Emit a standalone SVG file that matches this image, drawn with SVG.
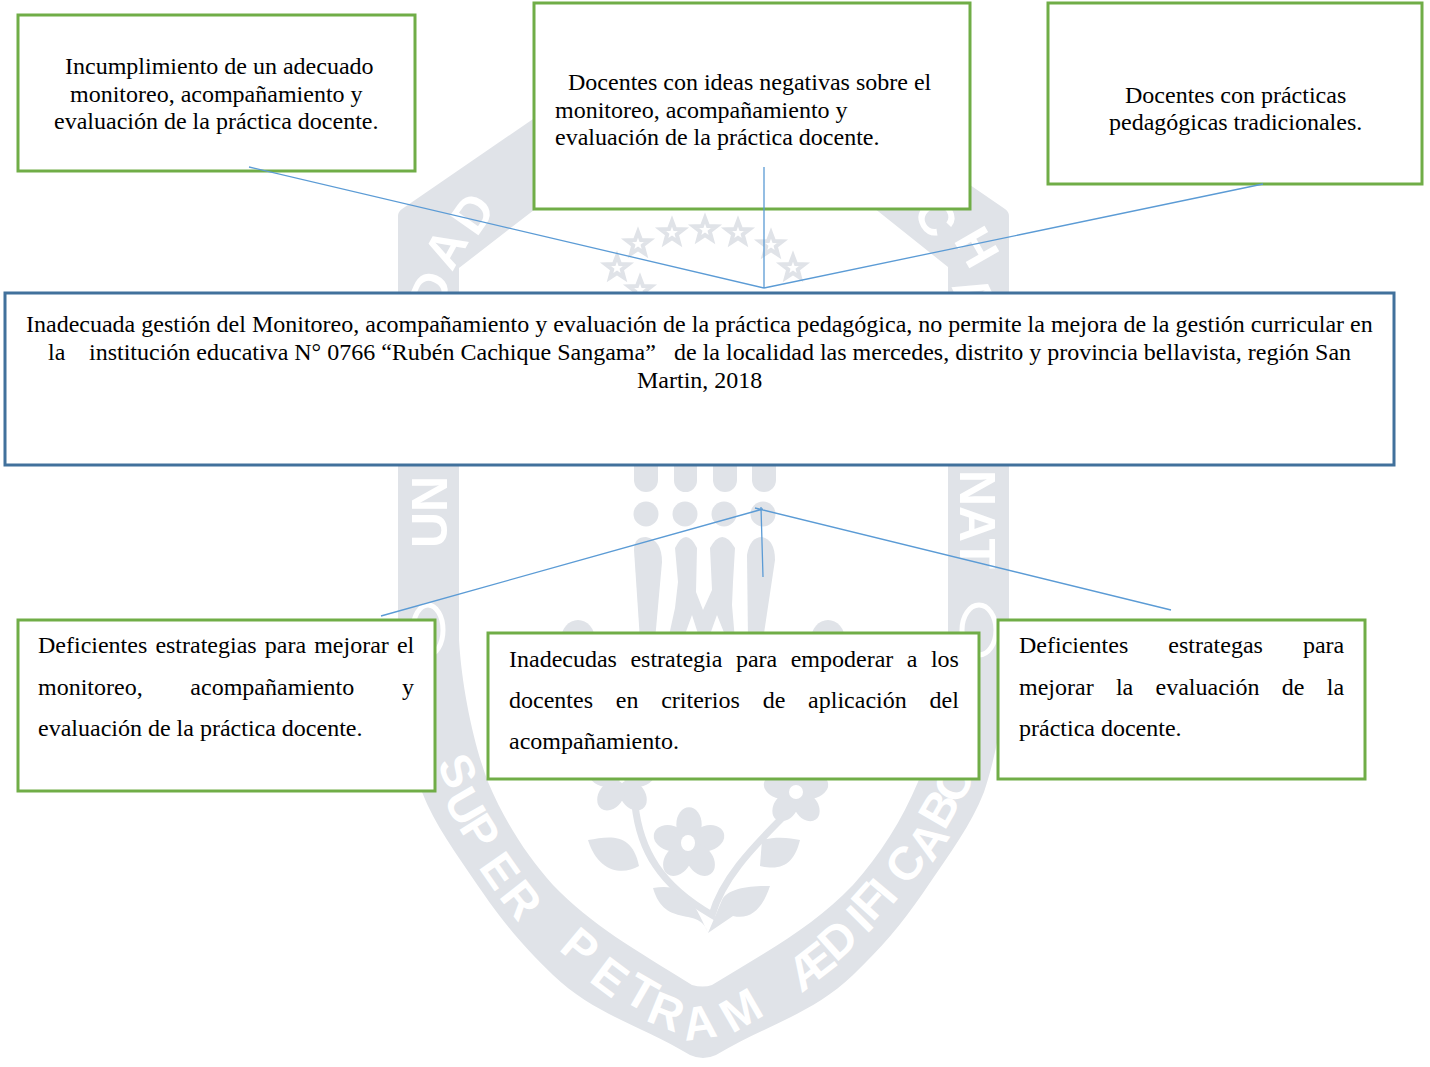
<svg xmlns="http://www.w3.org/2000/svg" width="1430" height="1067" viewBox="0 0 1430 1067">
<style>
.b{fill:#fff;stroke:#70ad47;stroke-width:3}
.m{fill:#fff;stroke:#41719c;stroke-width:3}
.c{stroke:#5b9bd5;stroke-width:1.3;fill:none}
.t{font-family:"Liberation Serif","Times New Roman",serif;font-size:24px;fill:#000}
.w{fill:#e0e3e8}
.wt{font-family:"Liberation Sans",Arial,sans-serif;font-weight:bold;font-size:50px;fill:#fff}
.wa{font-size:47px}
.s{fill:none;stroke:#e0e3e8;stroke-width:4}
</style>
<defs>
<polygon id="star" points="0,-12 3,-4 11.5,-3.7 4.8,1.5 7,9.7 0,5 -7,9.7 -4.8,1.5 -11.5,-3.7 -3,-4"/>
<g id="petals"><ellipse cx="0" cy="-17" rx="11" ry="15"/><ellipse cx="16" cy="-5" rx="11" ry="15" transform="rotate(72 16 -5)"/><ellipse cx="10" cy="14" rx="11" ry="15" transform="rotate(144 10 14)"/><ellipse cx="-10" cy="14" rx="11" ry="15" transform="rotate(216 -10 14)"/><ellipse cx="-16" cy="-5" rx="11" ry="15" transform="rotate(288 -16 -5)"/></g>
</defs>
<rect width="1430" height="1067" fill="#fff"/>
<g id="watermark">
<path class="w" fill-rule="evenodd" d="M398,216 Q398,212 402,209 L536,117 L703,40 L871,117 L1005,209 Q1009,212 1009,216 L1009,650 C1006,700 998,750 984,792 C971,825 951,852 923,893 C901,925 881,948 853,975 C811,1015 766,1025 716,1055 Q703,1061 690,1055 C640,1025 595,1015 553,975 C525,948 505,925 483,893 C455,852 435,825 422,792 C408,750 400,700 398,650 Z M459,268 L534,210 L703,120 L874,208 L948,267 L948,640 C944,690 932,745 918,782 C902,820 880,855 853,885 C815,925 770,950 712,985 Q703,988 692,985 C636,950 591,925 553,885 C526,855 504,820 488,782 C474,745 462,690 459,640 Z"/>
<text class="wt" transform="translate(447,548) rotate(-90)">UN</text>
<text class="wt" transform="translate(960,470) rotate(90)">NAT</text>
<text class="wt" x="439 452 476.4" y="313.8 272.5 238" rotate="-66 -61 -55">DAD</text>
<text class="wt" x="912 953 951" y="210 240 286" rotate="60 60 65">CHA</text>
<text class="wt wa" x="436.5 442.5 457.9 477.7 498" y="763.6 799.5 827.1 867.1 896.4" rotate="65 60 58 55 52">SUPER</text>
<text class="wt wa" x="557.7 587.8 621.2 644.5 685 732" y="949.5 980.6 999.5 1020.3 1041 1034" rotate="40 37 30 22 -8 -30">PETRAM</text>
<text class="wt wa" x="802 835.9 866.4 872.4 891.6 908 932 944.5 960" y="993 963.1 934.8 922.7 906.2 887 863.8 831.5 806" rotate="-38 -42 -45 -48 -50 -53 -56 -60 -63">ÆDIFICABO</text>
<ellipse cx="428" cy="630" rx="15" ry="25" fill="none" stroke="#fff" stroke-width="5"/>
<ellipse cx="979" cy="630" rx="17" ry="25" fill="none" stroke="#fff" stroke-width="5"/>
<g class="s">
<use href="#star" x="638" y="244"/><use href="#star" x="672" y="233"/><use href="#star" x="705" y="230"/><use href="#star" x="738" y="233"/><use href="#star" x="771" y="245"/><use href="#star" x="793" y="268"/><use href="#star" x="617" y="268"/><use href="#star" x="640" y="290"/>
</g>
<g class="w">
<rect x="634" y="440" width="24" height="52" rx="12"/><rect x="674" y="440" width="23" height="52" rx="11.5"/><rect x="713" y="440" width="24" height="52" rx="12"/><rect x="752" y="440" width="24" height="52" rx="12"/>
<circle cx="646" cy="514" r="12.5"/><circle cx="685" cy="514" r="12.5"/><circle cx="724" cy="514" r="12.5"/><circle cx="763" cy="514" r="12.5"/>
<path d="M634,550 Q634,537 646,537 Q662,540 662,562 L655,640 L640,640 Z"/>
<path d="M675,548 Q686,526 697,548 L696,592 L703,610 L712,590 L710,548 Q722,526 735,548 L733,582 L732,605 L735,640 L727,640 L717,615 L708,640 L700,640 L692,615 L683,640 L668,640 L675,608 L678,582 Z"/>
<path d="M747,555 Q750,537 762,537 Q775,540 775,560 L763,640 L748,640 Z"/>
<ellipse cx="578" cy="640" rx="17" ry="20"/><ellipse cx="828" cy="640" rx="17" ry="20"/>
<use href="#petals" transform="translate(622,780) scale(1.1)"/><use href="#petals" transform="translate(796,792) scale(1.05)"/><use href="#petals" transform="translate(689,844) scale(1.15)"/>
<path d="M588,840 C610,836 632,832 639,866 C622,876 598,872 588,840 Z"/>
<path d="M762,840 C778,836 790,838 800,840 C795,860 785,872 760,866 Z"/>
<path d="M653,888 C680,884 690,892 708,933 C700,905 665,930 653,888 Z"/>
<path d="M722,900 C728,888 750,886 770,886 C762,910 750,920 733,916 L708,933 Z"/>
</g>
<path d="M635,805 C640,850 660,885 712,915 C722,880 750,850 782,818" fill="none" stroke="#e0e3e8" stroke-width="7"/>
<circle cx="796" cy="792" r="7" fill="#fff"/><ellipse cx="688" cy="843" rx="7" ry="8" fill="#fff"/>
</g>
<g id="node-causa1"><rect class="b" x="18" y="15" width="397" height="156"/>
<text class="t" x="65" y="74">Incumplimiento de un adecuado</text><text class="t" x="70" y="102">monitoreo, acompañamiento y</text><text class="t" x="54" y="129">evaluación de la práctica docente.</text></g>
<g id="node-causa2"><rect class="b" x="534" y="3" width="436" height="206"/>
<text class="t" x="568" y="90">Docentes con ideas negativas sobre el</text><text class="t" x="555" y="118">monitoreo, acompañamiento y</text><text class="t" x="555" y="145">evaluación de la práctica docente.</text></g>
<g id="node-causa3"><rect class="b" x="1048" y="3" width="374" height="181"/>
<text class="t" x="1125" y="103">Docentes con prácticas</text><text class="t" x="1109" y="130">pedagógicas tradicionales.</text></g>
<g id="node-problema"><rect class="m" x="5" y="293" width="1389" height="172"/>
<text class="t" x="26" y="332">Inadecuada gestión del Monitoreo, acompañamiento y evaluación de la práctica pedagógica, no permite la mejora de la gestión curricular en</text>
<text class="t" y="360"><tspan x="48">la</tspan><tspan x="89">institución educativa N° 0766 “Rubén Cachique Sangama”</tspan><tspan x="674">de la localidad las mercedes, distrito y provincia bellavista, región San</tspan></text>
<text class="t" x="637" y="388">Martin, 2018</text></g>
<g id="node-efecto1"><rect class="b" x="18" y="620" width="417" height="171"/>
<text class="t" x="38" y="653" word-spacing="2.1">Deficientes estrategias para mejorar el</text>
<text class="t" x="38" y="695" word-spacing="41.7">monitoreo, acompañamiento y</text>
<text class="t" x="38" y="736">evaluación de la práctica docente.</text></g>
<g id="node-efecto2"><rect class="b" x="488" y="633" width="491" height="146"/>
<text class="t" x="509" y="667" word-spacing="7.5">Inadecudas estrategia para empoderar a los</text>
<text class="t" x="509" y="708" word-spacing="16.8">docentes en criterios de aplicación del</text>
<text class="t" x="509" y="749">acompañamiento.</text></g>
<g id="node-efecto3"><rect class="b" x="998" y="620" width="367" height="159"/>
<text class="t" x="1019" y="653" word-spacing="34">Deficientes estrategas para</text>
<text class="t" x="1019" y="695" word-spacing="16.3">mejorar la evaluación de la</text>
<text class="t" x="1019" y="736">práctica docente.</text></g>
<g id="connectors">
<path class="c" d="M249,167 L764,288 M764,167 L764,288 M1263,184 L764,288"/>
<path class="c" d="M381,616 L763,509 M1171,610 L755,508 M763,577 L761,507"/>
</g>
</svg>
